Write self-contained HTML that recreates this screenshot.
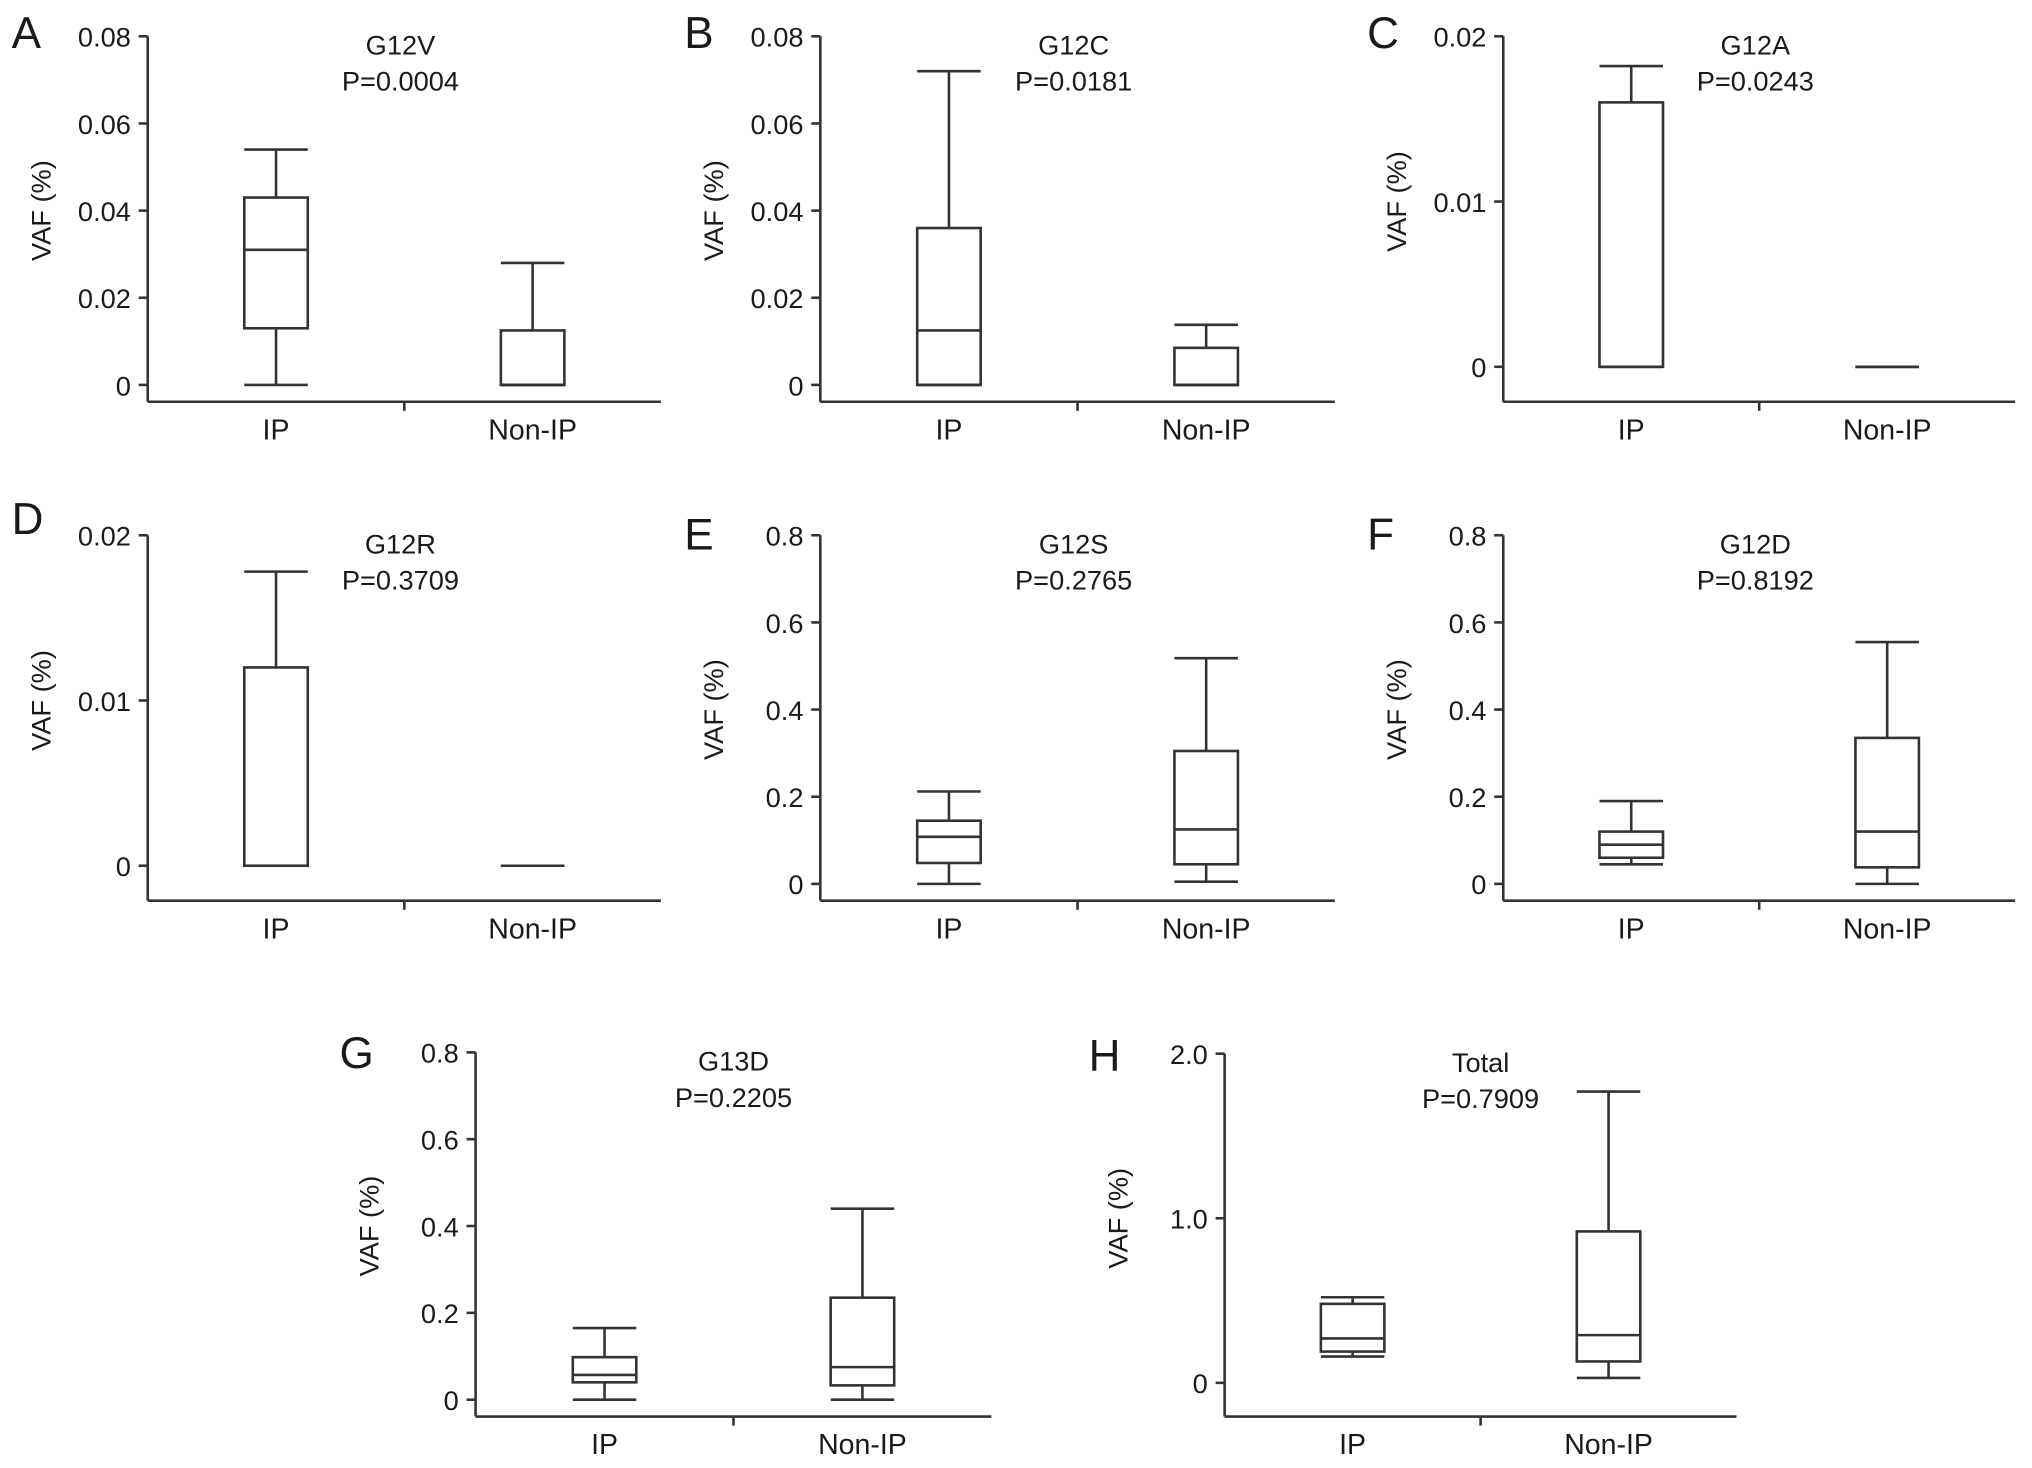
<!DOCTYPE html>
<html><head><meta charset="utf-8"><style>
html,body{margin:0;padding:0;background:#fff;}
svg{display:block;font-family:"Liberation Sans",Arial,sans-serif;}
</style></head><body>
<svg id="fig" width="2032" height="1468" viewBox="0 0 1568 1132.7" preserveAspectRatio="none"></svg>
<script>
const panelLetters = ["A","B","C","D","E","F","G","H"];
const panelTitles = ["G12V","G12C","G12A","G12R","G12S","G12D","G13D","Total"];
const panelPvalues = ["P=0.0004","P=0.0181","P=0.0243","P=0.3709","P=0.2765","P=0.8192","P=0.2205","P=0.7909"];
const categories = ["IP","Non-IP"];
const tickLabels = [
  ["0","0.02","0.04","0.06","0.08"],
  ["0","0.02","0.04","0.06","0.08"],
  ["0","0.01","0.02"],
  ["0","0.01","0.02"],
  ["0","0.2","0.4","0.6","0.8"],
  ["0","0.2","0.4","0.6","0.8"],
  ["0","0.2","0.4","0.6","0.8"],
  ["0","1.0","2.0"]
];
// [min, q1, median, q3, max] per category
const ipStats = [
  [0,0.013,0.031,0.043,0.054],
  [0,0,0.0125,0.036,0.072],
  [0,0,0,0.016,0.0182],
  [0,0,0,0.012,0.0178],
  [0,0.048,0.108,0.145,0.212],
  [0.045,0.06,0.09,0.12,0.19],
  [0,0.04,0.057,0.098,0.165],
  [0.16,0.19,0.27,0.48,0.52]
];
const nonIpStats = [
  [0,0,0,0.0125,0.028],
  [0,0,0,0.0085,0.0138],
  [0,0,0,0,0],
  [0,0,0,0,0],
  [0.005,0.045,0.125,0.305,0.518],
  [0,0.038,0.12,0.335,0.555],
  [0,0.033,0.075,0.235,0.44],
  [0.03,0.13,0.29,0.92,1.77]
];

// layout (not data)
const layouts = [
  {ax:114,top:28,zero:297,xy:310,xe:510,ly:37},
  {ax:633,top:28,zero:297,xy:310,xe:1030,ly:37},
  {ax:1160,top:28,zero:283,xy:310,xe:1555,ly:37},
  {ax:114,top:413,zero:668,xy:695,xe:510,ly:412},
  {ax:633,top:413,zero:682,xy:695,xe:1030,ly:424},
  {ax:1160,top:413,zero:682,xy:695,xe:1555,ly:424},
  {ax:367,top:812,zero:1080,xy:1093,xe:765,ly:824},
  {ax:945,top:813,zero:1067,xy:1093,xe:1340,ly:826}
];
const NS="http://www.w3.org/2000/svg";
const svg=document.getElementById('fig');
function mk(tag,attrs,parent){const e=document.createElementNS(NS,tag);for(const k in attrs)e.setAttribute(k,attrs[k]);parent.appendChild(e);return e;}
function line(g,x1,y1,x2,y2,name){const l=mk('line',{x1,y1,x2,y2,stroke:'#333','stroke-width':2},g);


return l;}
function text(g,x,y,s,size,anchor,name,extra){const t=mk('text',Object.assign({x,y,'font-size':size,'text-anchor':anchor,fill:'#1a1a1a'},extra||{}),g);t.textContent=s;


return t;}

for(let p=0;p<8;p++){
  const L=layouts[p];
  const g=mk('g',{},svg);
  
  
  const ticks=tickLabels[p];
  const maxV=parseFloat(ticks[ticks.length-1]);
  const y=v=>L.zero-(v/maxV)*(L.zero-L.top);
  const w=L.xe-L.ax;
  const cx=[L.ax+w*0.25,L.ax+w*0.75];
  line(g,L.ax,L.top,L.ax,L.xy,'y-axis');
  line(g,L.ax,L.xy,L.xe,L.xy,'x-axis');
  line(g,(L.ax+L.xe)/2,L.xy,(L.ax+L.xe)/2,L.xy+7,'x-axis-tick');
  ticks.forEach(t=>{const yy=y(parseFloat(t));
    line(g,L.ax-7,yy,L.ax,yy,'y-axis-tick');
    text(g,L.ax-13,yy+8,t,21,'end','y-tick-label');});
  categories.forEach((c,i)=>text(g,cx[i],L.xy+29,c,22,'middle','x-category-label'));
  text(g,0,0,'VAF (%)',21,'middle','y-axis-title',{transform:`translate(${L.ax-75},${(L.top+L.zero)/2}) rotate(-90)`});
  text(g,L.ax-105,L.ly,panelLetters[p],34,'start','panel-letter');
  const tcx=(L.ax+L.xe)/2-(p<6?3:0);
  text(g,tcx,L.top+14,panelTitles[p],21,'middle','panel-title');
  text(g,tcx,L.top+42,panelPvalues[p],21,'middle','p-value-label');
  [ipStats[p],nonIpStats[p]].forEach((s,i)=>{
    const bx=cx[i], hw=24.5;
    const bg=mk('g',{},g);
    
    
    line(bg,bx,y(s[0]),bx,y(s[1]),'lower-whisker');
    line(bg,bx,y(s[3]),bx,y(s[4]),'upper-whisker');
    line(bg,bx-hw,y(s[0]),bx+hw,y(s[0]),'min-cap');
    line(bg,bx-hw,y(s[4]),bx+hw,y(s[4]),'max-cap');
    const r=mk('rect',{x:bx-hw,y:y(s[3]),width:hw*2,height:Math.max(0,y(s[1])-y(s[3])),fill:'none',stroke:'#333','stroke-width':2},bg);
    
    
    line(bg,bx-hw,y(s[2]),bx+hw,y(s[2]),'median-line');
  });
}
</script>
</body></html>
